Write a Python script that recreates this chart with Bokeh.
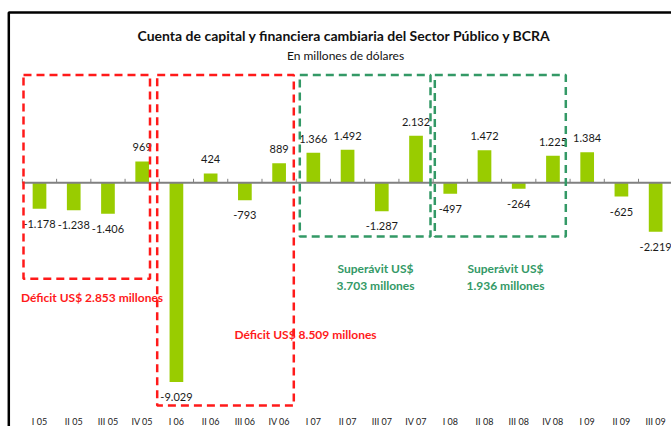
from bokeh.plotting import figure
from bokeh.models import Range1d, LinearAxis, FixedTicker, BoxAnnotation, ColumnDataSource
from bokeh.core.properties import value
from bokeh.embed import file_html
from bokeh.resources import INLINE

# ---- data ----
categories = ["I 05", "II 05", "III 05", "IV 05", "I 06", "II 06", "III 06", "IV 06",
              "I 07", "II 07", "III 07", "IV 07", "I 08", "II 08", "III 08", "IV 08",
              "I 09", "II 09", "III 09"]
values = [-1178, -1238, -1406, 969, -9029, 424, -793, 889, 1366, 1492, -1287, 2132,
          -497, 1472, -264, 1225, 1384, -625, -2219]
value_labels = [f"{v:,}".replace(",", ".") for v in values]

title_text = "Cuenta de capital y financiera cambiaria del Sector Público y BCRA"
subtitle_text = "En millones de dólares"

group_texts = [["Déficit US$ 2.853 millones"],
               ["Déficit US$ 8.509 millones"],
               ["Superávit US$", "3.703 millones"],
               ["Superávit US$", "1.936 millones"]]
group_kinds = ["deficit", "deficit", "superavit", "superavit"]

# ---- layout (page pixels -> data) ----
W, H = 671, 426
CX0 = 39.0      # page x of first category centre
SX = 34.23      # px per category
ZY = 182.3      # page y of zero line
UPP = 45.3      # units per px


def X(px):
    return (px - CX0) / SX


def Y(py):
    return (ZY - py) * UPP


BAR = "#99cc00"
RED = "#ff1a1a"
GREEN = "#339966"
FONT = "Lato"

p = figure(width=W, height=H, output_backend="svg", toolbar_location=None,
           x_axis_type=None, y_axis_type=None,
           x_range=Range1d(X(0), X(W)),
           y_range=Range1d(Y(H), Y(0)),
           min_border=0, min_border_left=0, min_border_right=0,
           min_border_top=0, min_border_bottom=0)
p.outline_line_color = None
p.grid.visible = False
p.background_fill_color = "white"
p.border_fill_color = "white"

n = len(categories)
xs = list(range(n))
src = ColumnDataSource(dict(
    x=xs, top=values, lab=value_labels,
    yoff=[-14 if v >= 0 else 15 for v in values],
))

p.vbar(x="x", top="top", bottom=0, width=0.4, source=src,
       fill_color=BAR, line_color=None)

# zero line with boundary ticks
bounds = [i - 0.5 for i in range(n + 1)]
p.line(x=[bounds[0], bounds[-1]], y=[0, 0], line_color="#808080", line_width=2)
p.segment(x0=bounds, y0=[0] * len(bounds), x1=bounds, y1=[4 * UPP] * len(bounds),
          line_color="#808080", line_width=1)

# category labels axis
cat_axis = LinearAxis(fixed_location=Y(413),
                      ticker=FixedTicker(ticks=xs),
                      major_label_overrides={i: c for i, c in enumerate(categories)},
                      axis_line_color=None, major_tick_line_color=None,
                      minor_tick_line_color=None,
                      major_tick_in=0, major_tick_out=0,
                      major_label_standoff=2,
                      major_label_text_font=FONT,
                      major_label_text_font_size="9px",
                      major_label_text_color="#222222")
p.add_layout(cat_axis, "below")

# value labels
p.text(x="x", y="top", text="lab", y_offset="yoff", source=src,
       text_align="center", text_baseline="middle",
       text_font=value(FONT), text_font_size="11px", text_color="#1a1a1a")

# dashed boxes (page pixel geometry)
boxes_px = [(23.0, 149.5, 74.5, 278.3),
            (156.7, 293.3, 74.5, 405.0),
            (299.3, 430.0, 74.5, 236.0),
            (434.3, 565.3, 74.5, 236.0)]
for (l, r, t, b), kind in zip(boxes_px, group_kinds):
    col = RED if kind == "deficit" else GREEN
    p.add_layout(BoxAnnotation(left=X(l), right=X(r), top=Y(t), bottom=Y(b),
                               fill_color=None, fill_alpha=0,
                               line_color=col, line_alpha=1.0,
                               line_width=2.5, line_dash="8 5"))

# group texts (page pixel centres of first line, line spacing)
text_pos_px = [(91.5, 296.7), (305.0, 334.0), (375.0, 267.7), (505.0, 267.7)]
for (cx, cy), lines, kind in zip(text_pos_px, group_texts, group_kinds):
    col = RED if kind == "deficit" else GREEN
    p.text(x=[X(cx)] * len(lines), y=[Y(cy + 17.5 * k) for k in range(len(lines))],
           text=lines, text_align="center", text_baseline="middle",
           text_font=value(FONT), text_font_size="12px", text_font_style="bold",
           text_color=col)

# title and subtitle
p.text(x=[X(344)], y=[Y(35)], text=[title_text], text_align="center",
       text_baseline="middle", text_font=value(FONT), text_font_size="14px",
       text_font_style="bold", text_color="#111111")
p.text(x=[X(345)], y=[Y(55)], text=[subtitle_text], text_align="center",
       text_baseline="middle", text_font=value(FONT), text_font_size="12px",
       text_color="#111111")

# frame border (left and top)
p.line(x=[X(8.3), X(8.3), X(W + 5)],
       y=[Y(H + 5), Y(12), Y(12)],
       line_color="black", line_width=2.5)

open("out.html", "w").write(file_html(p, INLINE))
